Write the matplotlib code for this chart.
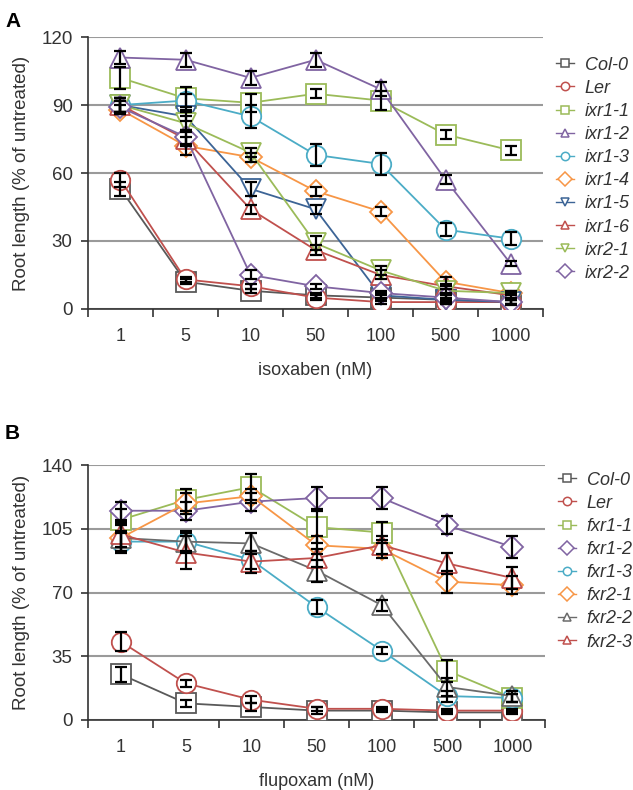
import matplotlib
matplotlib.use("Agg")
import matplotlib.pyplot as plt
from matplotlib.lines import Line2D

plt.rcParams["font.family"] = ["Liberation Sans", "DejaVu Sans"]

# ============================================================
# 数据
# ============================================================
doses = ["1", "5", "10", "50", "100", "500", "1000"]

# A: isoxaben
iso_names = ["Col-0", "Ler", "ixr1-1", "ixr1-2", "ixr1-3",
             "ixr1-4", "ixr1-5", "ixr1-6", "ixr2-1", "ixr2-2"]
iso_vals = [
    [53, 12, 8, 6, 5, 4, 3],
    [57, 13, 10, 5, 3, 3, 3],
    [102, 93, 91, 95, 92, 77, 70],
    [111, 110, 102, 110, 97, 57, 20],
    [90, 92, 85, 68, 64, 35, 31],
    [88, 72, 67, 52, 43, 12, 7],
    [90, 85, 53, 44, 6, 4, 3],
    [90, 75, 44, 26, 15, 10, 6],
    [90, 82, 69, 29, 17, 8, 7],
    [89, 76, 15, 10, 7, 5, 3],
]
iso_err = [
    [3, 1, 1, 1, 1.5, 2, 1.5],
    [3, 1, 1, 1, 1, 1, 1],
    [5, 5, 4, 2, 4, 2, 2],
    [3, 3, 3, 3, 3, 2, 1],
    [3, 3, 5, 5, 5, 3, 3],
    [2, 4, 2, 2, 2, 2, 1],
    [3, 2, 3, 2, 1, 1, 1],
    [3, 3, 2, 2, 2, 1, 1],
    [3, 3, 2, 3, 2, 1, 1],
    [3, 3, 2, 1, 1, 1, 1],
]
iso_colors = ["#595959", "#c0504d", "#9bbb59", "#8064a2", "#4bacc6",
              "#f79646", "#3c6496", "#c0504d", "#9bbb59", "#8064a2"]
iso_markers = ["s", "o", "s", "^", "o", "D", "v", "^", "v", "D"]

# B: flupoxam
flu_names = ["Col-0", "Ler", "fxr1-1", "fxr1-2", "fxr1-3",
             "fxr2-1", "fxr2-2", "fxr2-3"]
flu_vals = [
    [25, 9, 7, 5, 5, 4, 4],
    [43, 20, 11, 6, 6, 5, 5],
    [110, 121, 128, 106, 103, 27, 12],
    [115, 115, 120, 122, 122, 107, 95],
    [98, 98, 88, 62, 38, 13, 12],
    [100, 119, 123, 96, 94, 76, 74],
    [100, 98, 97, 82, 63, 18, 13],
    [102, 92, 87, 89, 96, 86, 78],
]
flu_err = [
    [4, 2, 2, 2, 1, 1, 1],
    [5, 2, 2, 1, 1, 1, 1],
    [6, 6, 7, 9, 6, 6, 2],
    [5, 5, 5, 6, 6, 5, 6],
    [5, 5, 5, 4, 2, 3, 2],
    [7, 6, 4, 5, 5, 6, 5],
    [8, 6, 6, 6, 3, 5, 3],
    [7, 9, 6, 5, 5, 6, 6],
]
flu_colors = ["#595959", "#c0504d", "#9bbb59", "#8064a2", "#4bacc6",
              "#f79646", "#6b6b6b", "#c0504d"]
flu_markers = ["s", "o", "s", "D", "o", "D", "^", "^"]


# ============================================================
# 绘图
# ============================================================
def draw_panel(ax, names, vals, errs, colors, markers, ymax, step, xlabel,
               leg_y):
    x = list(range(len(doses)))
    for name, v, e, c, m in zip(names, vals, errs, colors, markers):
        ms = 11 if m == "D" else 14
        ax.plot(x, v, color=c, lw=1.3, marker=m, ms=ms,
                mfc="white", mec=c, mew=1.3, zorder=3)
    for v, e in zip(vals, errs):
        ax.errorbar(x, v, yerr=e, fmt="none", ecolor="black",
                    elinewidth=1.6, capsize=4, capthick=1.6, zorder=4)

    ax.set_xlim(-0.5, len(doses) - 0.5)
    ax.set_ylim(0, ymax)
    ax.set_yticks(range(0, ymax + 1, step))
    ax.set_xticks(x)
    ax.set_xticklabels(doses)
    ax.set_xticks([i - 0.5 for i in range(len(doses) + 1)], minor=True)
    ax.tick_params(axis="x", which="major", length=0, pad=14,
                   labelsize=13, labelcolor="#333333")
    ax.tick_params(axis="x", which="minor", length=6, width=1.2,
                   color="#333333")
    ax.tick_params(axis="y", length=5, width=1.2, color="#333333",
                   labelsize=13.5, labelcolor="#333333", pad=6)
    ax.grid(True, axis="y", color="#9a9a9a", lw=1.5)
    ax.set_axisbelow(True)
    for s in ["top", "right"]:
        ax.spines[s].set_visible(False)
    for s in ["left", "bottom"]:
        ax.spines[s].set_color("#333333")
        ax.spines[s].set_linewidth(1.2)
    ax.set_ylabel("Root length (% of untreated)", fontsize=13.5,
                  color="#333333", labelpad=8)
    ax.set_xlabel(xlabel, fontsize=13, color="#333333", labelpad=12)

    handles = [Line2D([0], [0], color=c, lw=1.0, marker=m,
                      ms=6 if m != "D" else 7, mfc="white", mec=c, mew=1.1)
               for c, m in zip(colors, markers)]
    ax.legend(handles, names, loc="upper left", bbox_to_anchor=(1.0, leg_y),
              frameon=False, handlelength=1.0, handletextpad=0.6,
              labelspacing=0.34, borderaxespad=0.3,
              prop={"size": 13, "style": "italic"}, labelcolor="#333333")


fig = plt.figure(figsize=(6.33, 7.90), dpi=100)
ax_a = fig.add_axes([0.139, 0.609, 0.719, 0.344])
ax_b = fig.add_axes([0.139, 0.089, 0.722, 0.322])

draw_panel(ax_a, iso_names, iso_vals, iso_err, iso_colors, iso_markers,
           120, 30, "isoxaben (nM)", 0.975)
draw_panel(ax_b, flu_names, flu_vals, flu_err, flu_colors, flu_markers,
           140, 35, "flupoxam (nM)", 1.025)

fig.text(0.008, 0.985, "A", fontsize=15, fontweight="bold", va="top")
fig.text(0.008, 0.463, "B", fontsize=15, fontweight="bold", va="top")

fig.savefig("out.png", dpi=100)
